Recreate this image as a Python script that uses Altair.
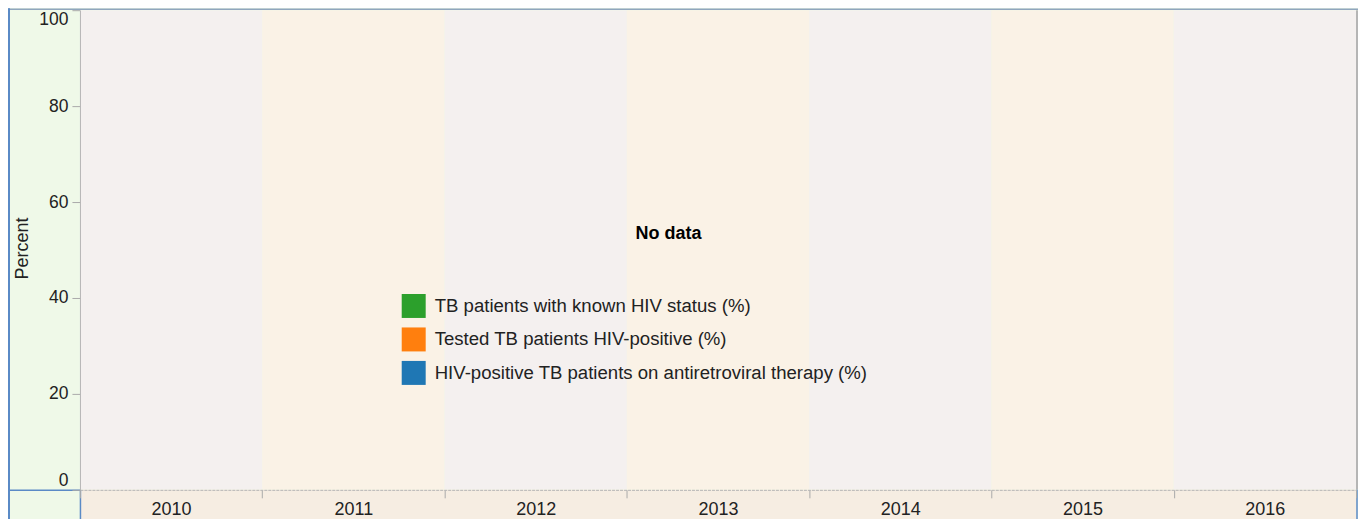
import altair as alt
import pandas as pd

# ---- data -------------------------------------------------------------
years = [2010, 2011, 2012, 2013, 2014, 2015, 2016]
series = [
    "TB patients with known HIV status (%)",
    "Tested TB patients HIV-positive (%)",
    "HIV-positive TB patients on antiretroviral therapy (%)",
]
series_colors = ["#2ca02c", "#ff7f0e", "#1f77b4"]
y_ticks = [0, 20, 40, 60, 80, 100]
y_min, y_max = 0, 100
y_title = "Percent"
no_data_text = "No data"

# ---- style --------------------------------------------------------------
FONT = "Liberation Sans, Arial, sans-serif"
W, H = 1277, 480
BG = "#eff9e8"
BAND_EVEN = "#f4f0ef"
BAND_ODD = "#faf2e6"
AXIS_BAND = "#f6ede2"
BLUE = "#5a8ac6"
GRAY = "#b5b5b5"
TEXT = "#222222"

years_df = pd.DataFrame({"yr": years, "year": [str(y) for y in years]})
one = alt.Data(values=[{}])

bands = alt.Chart(years_df).mark_rect().encode(
    x=alt.X(
        "year:N",
        sort=None,
        scale=alt.Scale(paddingInner=0, paddingOuter=0),
        axis=alt.Axis(
            title=None, labelAngle=0, labelFontSize=18, labelFont=FONT,
            labelColor=TEXT, tickBand="extent", tickSize=8, tickColor="#aaaaaa",
            domainColor=GRAY, domainDash=[3, 1], labelPadding=3, zindex=1,
        ),
    ),
    y=alt.Y(
        datum=y_min, type="quantitative",
        scale=alt.Scale(domain=[y_min, y_max], nice=False),
        axis=alt.Axis(
            values=y_ticks, labelFontSize=17.5, labelFont=FONT, labelColor=TEXT,
            tickSize=8, tickColor="#aaaaaa", domainColor=GRAY, labelPadding=4,
            labelFlush=True, grid=False, zindex=1,
            title=y_title, titleFontSize=18, titleFont=FONT,
            titleFontWeight="normal", titleColor=TEXT, titleX=-57, titleY=238,
            titleBaseline="middle", titleAlign="center",
        ),
    ),
    y2=alt.Y2(datum=y_max),
    color=alt.condition("datum.yr % 2 == 0", alt.value(BAND_EVEN), alt.value(BAND_ODD)),
)

axis_band = alt.Chart(one).mark_rect(color=AXIS_BAND).encode(
    x=alt.value(0), x2=alt.value(W + 1), y=alt.value(H), y2=alt.value(H + 34)
)


def hrule(x1, x2, y, color, sw):
    return alt.Chart(one).mark_rule(color=color, strokeWidth=sw).encode(
        x=alt.value(x1), x2=alt.value(x2), y=alt.value(y)
    )


def vrule(x, y1, y2, color, sw):
    return alt.Chart(one).mark_rule(color=color, strokeWidth=sw).encode(
        x=alt.value(x), y=alt.value(y1), y2=alt.value(y2)
    )


frame = [
    hrule(-72, W + 3, -1, "#8fa6be", 1.5),
    vrule(-71, -2, H + 34, BLUE, 2),
    hrule(-72, 0, H + 0.5, BLUE, 1.5),
    vrule(0.5, H, H + 34, BLUE, 1.5),
    vrule(W + 1, 0, H, GRAY, 2),
    vrule(W + 1, H, H + 34, BLUE, 1.5),
]

nodata = alt.Chart(one).mark_text(
    text=no_data_text, fontSize=18, fontWeight="bold", font=FONT, color="#000000",
    align="center", baseline="middle",
).encode(x=alt.value(589), y=alt.value(224))

legend_layer = alt.Chart(pd.DataFrame({"series": series})).mark_square(
    clip=True, size=100, filled=True
).encode(
    x=alt.value(10),
    y=alt.value(-200),
    color=alt.Color(
        "series:N",
        scale=alt.Scale(domain=series, range=series_colors),
        legend=alt.Legend(
            orient="none", legendX=322, legendY=284, title=None,
            symbolType="square", symbolSize=576, symbolStrokeWidth=0,
            symbolOpacity=1, labelFontSize=18.6, labelFont=FONT, labelColor=TEXT,
            labelOffset=9, rowPadding=9.5, padding=0, labelLimit=0,
        ),
    ),
)

chart = alt.layer(bands, axis_band, *frame, nodata, legend_layer).properties(
    width=W,
    height=H,
    padding={"left": 72, "top": 2, "right": 2, "bottom": 30},
    autosize=alt.AutoSizeParams(type="none"),
    background=BG,
).configure_view(stroke="transparent")

chart.save("out.html", embed_options={"renderer": "svg", "actions": False})
